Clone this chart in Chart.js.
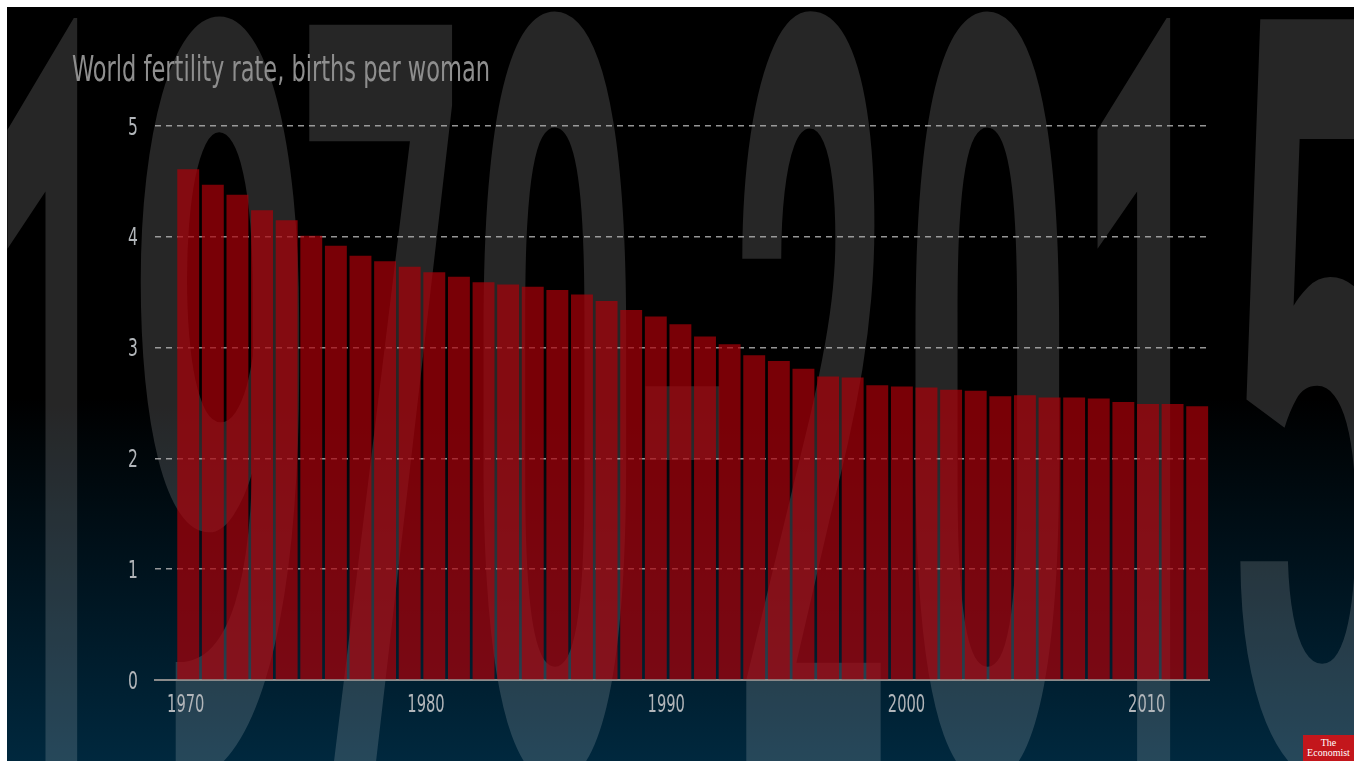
<!DOCTYPE html>
<html>
<head>
<meta charset="utf-8">
<script src="https://cdn.jsdelivr.net/npm/chart.js@4.4.1/dist/chart.umd.min.js"></script>
<style>
  html, body { margin: 0; padding: 0; background: #fff; }
  #wrap { position: absolute; left: 7px; top: 7px; width: 1347px; height: 754px; }
  #logo {
    position: absolute; left: 1303px; top: 735px; width: 51px; height: 26px;
    background: #c3161c; color: #fff; text-align: center;
    font: 10px/10px "Liberation Serif", "DejaVu Serif", serif; padding-top: 3px; box-sizing: border-box;
  }
</style>
</head>
<body>
<div id="wrap"><canvas id="grafico" width="1347" height="754"></canvas></div>
<div id="logo">The<br>Economist</div>
<script>
// world fertility rate, births per woman
const years = [1970, 1971, 1972, 1973, 1974, 1975, 1976, 1977, 1978, 1979,
               1980, 1981, 1982, 1983, 1984, 1985, 1986, 1987, 1988, 1989,
               1990, 1991, 1992, 1993, 1994, 1995, 1996, 1997, 1998, 1999,
               2000, 2001, 2002, 2003, 2004, 2005, 2006, 2007, 2008, 2009,
               2010, 2011];
const fertility = [4.61, 4.47, 4.38, 4.24, 4.15, 4.01, 3.92, 3.83, 3.78, 3.73,
                   3.68, 3.64, 3.59, 3.57, 3.55, 3.52, 3.48, 3.42, 3.34, 3.28,
                   3.21, 3.10, 3.03, 2.93, 2.88, 2.81, 2.74, 2.73, 2.66, 2.65,
                   2.64, 2.62, 2.61, 2.56, 2.57, 2.55, 2.55, 2.54, 2.51, 2.49,
                   2.49, 2.47];
const yearTicks = [1970, 1980, 1990, 2000, 2010];
const rateTicks = [0, 1, 2, 3, 4, 5];
const titulo = 'World fertility rate, births per woman';
const backdropText = '1970-2015';

const fonteEstreita = "'DejaVu Sans Condensed', 'DejaVu Sans', sans-serif";

// big faded years behind the bars, one glyph at a time stretched into its box
const caixasFundo = [
  { l: 0,    r: 71,   t: 8,   b: 773 },
  { l: 133,  r: 293,  t: 0,   b: 773 },
  { l: 301,  r: 446,  t: 8,   b: 773 },
  { l: 476,  r: 620,  t: 0,   b: 776 },
  { l: 638,  r: 713,  t: 376, b: 453 },
  { l: 734,  r: 875,  t: 0,   b: 773 },
  { l: 908,  r: 1053, t: 0,   b: 776 },
  { l: 1090, r: 1164, t: 8,   b: 773 },
  { l: 1233, r: 1398, t: 8,   b: 773 }
];

const fundo = {
  id: 'fundo',
  beforeDraw(chart) {
    const ctx = chart.ctx;
    const w = chart.width, h = chart.height;
    ctx.save();
    const grad = ctx.createLinearGradient(0, 0, 0, h);
    grad.addColorStop(0, '#000000');
    grad.addColorStop(0.52, '#000000');
    grad.addColorStop(1, '#00283e');
    ctx.fillStyle = grad;
    ctx.fillRect(0, 0, w, h);

    ctx.font = "bold 200px Roboto, 'Liberation Sans', sans-serif";
    ctx.fillStyle = 'rgba(255,255,255,0.15)';
    ctx.textBaseline = 'alphabetic';
    ctx.textAlign = 'left';
    [...backdropText].forEach((ch, i) => {
      const c = caixasFundo[i];
      const m = ctx.measureText(ch);
      const bl = m.actualBoundingBoxLeft, br = m.actualBoundingBoxRight;
      const asc = m.actualBoundingBoxAscent, desc = m.actualBoundingBoxDescent;
      const sx = (c.r - c.l) / (bl + br);
      const sy = (c.b - c.t) / (asc + desc);
      ctx.setTransform(sx, 0, 0, sy, c.l + bl * sx, c.t + asc * sy);
      ctx.fillText(ch, 0, 0);
    });
    ctx.restore();
  }
};

// condensed text: squeeze horizontally around the anchor point
function textoEstreito(ctx, txt, x, y, align, sx) {
  ctx.save();
  ctx.translate(x, y);
  ctx.scale(sx, 1);
  ctx.textAlign = align;
  ctx.fillText(txt, 0, 0);
  ctx.restore();
}

const rotulos = {
  id: 'rotulos',
  afterDraw(chart) {
    const ctx = chart.ctx;
    const area = chart.chartArea;
    const sy = chart.scales.y, sx = chart.scales.x;
    ctx.save();
    ctx.textBaseline = 'alphabetic';

    // title
    ctx.font = '36px ' + fonteEstreita;
    ctx.fillStyle = '#8e8e8e';
    const larg = ctx.measureText(titulo).width;
    textoEstreito(ctx, titulo, 65, 74, 'left', 418 / larg);

    ctx.font = '24px ' + fonteEstreita;
    ctx.fillStyle = '#b2b6ba';
    sy.ticks.forEach(t => {
      textoEstreito(ctx, String(t.value), area.left - 17, sy.getPixelForValue(t.value) + 8.5, 'right', 0.72);
    });
    sx.ticks.forEach(t => {
      textoEstreito(ctx, String(t.value), sx.getPixelForValue(t.value), area.bottom + 32, 'center', 0.68);
    });
    ctx.restore();
  }
};

const ctx = document.getElementById('grafico');

new Chart(ctx, {
  type: 'bar',
  data: {
    datasets: [{
      data: years.map((ano, i) => ({ x: ano, y: fertility[i] })),
      xAxisID: 'xBar',
      yAxisID: 'y',
      backgroundColor: 'rgba(172,0,8,0.70)',
      borderWidth: 0,
      barPercentage: 0.89,
      categoryPercentage: 1
    }]
  },
  options: {
    responsive: false,
    animation: false,
    layout: { padding: { left: 65, right: 145, top: 119, bottom: 0 } },
    plugins: {
      legend: { display: false },
      tooltip: { enabled: false },
      title: { display: false }
    },
    scales: {
      xBar: {
        type: 'linear',
        axis: 'x',
        display: false,
        min: 1968.65,
        max: 2011.48,
        offset: false
      },
      x: {
        type: 'linear',
        position: 'bottom',
        min: 1968.72,
        max: 2012.59,
        offset: false,
        afterBuildTicks: s => { s.ticks = yearTicks.map(v => ({ value: v })); },
        afterFit: s => { s.height = 81; },
        grid: { display: false, offset: false },
        border: { display: true, color: '#8a8a8a', width: 2 },
        ticks: { display: false }
      },
      y: {
        min: rateTicks[0],
        max: rateTicks[rateTicks.length - 1],
        afterBuildTicks: s => { s.ticks = rateTicks.map(v => ({ value: v })); },
        afterFit: s => { s.width = 83; },
        grid: {
          drawTicks: false,
          color: c => c.tick && c.tick.value === 0 ? 'rgba(0,0,0,0)' : 'rgba(175,175,175,0.85)',
          lineWidth: 1.5
        },
        border: { display: false, dash: [6, 5] },
        ticks: { display: false }
      }
    }
  },
  plugins: [fundo, rotulos]
});
</script>
</body>
</html>
